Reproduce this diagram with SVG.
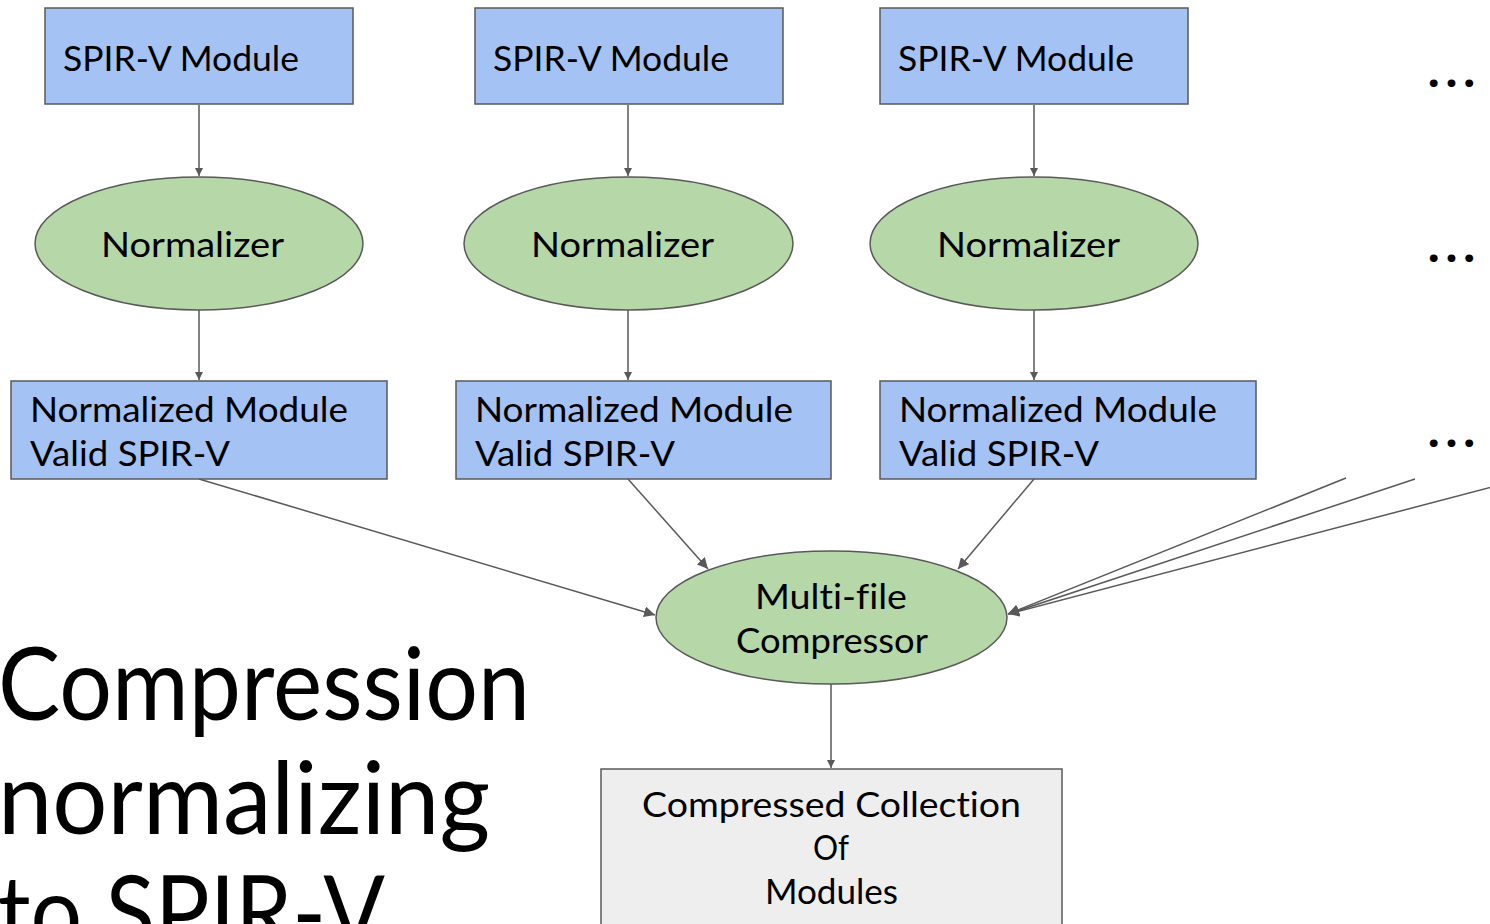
<svg xmlns="http://www.w3.org/2000/svg" width="1490" height="924" viewBox="0 0 1490 924">
<style>
  text { font-family: Lato, "Open Sans", "Liberation Sans", sans-serif; fill: #000; font-variant-ligatures: none; }
  .lbl { font-size: 34px; }
  .blue { fill: #a4c2f4; stroke: #595959; stroke-width: 1.5; }
  .green { fill: #b6d7a8; stroke: #595959; stroke-width: 1.5; }
  .grey { fill: #eeeeee; stroke: #595959; stroke-width: 1.5; }
  .edge { fill: none; stroke: #595959; stroke-width: 1.5; }
  .title { font-size: 100px; }
  .dots { font-size: 48px; font-weight: 900; }
</style>
<defs>
  <marker id="arr" viewBox="0 0 10 10" refX="10" refY="5" markerWidth="8" markerHeight="8" markerUnits="userSpaceOnUse" orient="auto">
    <path d="M0,0 L10,5 L0,10 z" fill="#595959"/>
  </marker>
  <marker id="arrL" viewBox="0 0 10 10" refX="10" refY="5" markerWidth="11" markerHeight="11" markerUnits="userSpaceOnUse" orient="auto">
    <path d="M0,0 L10,5 L0,10 z" fill="#595959"/>
  </marker>
</defs>

<g id="title">
  <text class="title" x="-2" y="720" textLength="532" lengthAdjust="spacingAndGlyphs">Compression</text>
  <text class="title" x="-2" y="834" textLength="492" lengthAdjust="spacingAndGlyphs">normalizing</text>
  <text class="title" x="-2" y="948" textLength="387" lengthAdjust="spacingAndGlyphs">to SPIR-V</text>
</g>

<g id="connectors">
  <line class="edge" x1="199" y1="105" x2="199" y2="176" marker-end="url(#arr)"/>
  <line class="edge" x1="628" y1="105" x2="628" y2="176" marker-end="url(#arr)"/>
  <line class="edge" x1="1034" y1="105" x2="1034" y2="176" marker-end="url(#arr)"/>
  <line class="edge" x1="199" y1="310" x2="199" y2="380" marker-end="url(#arr)"/>
  <line class="edge" x1="628" y1="310" x2="628" y2="380" marker-end="url(#arr)"/>
  <line class="edge" x1="1034" y1="310" x2="1034" y2="380" marker-end="url(#arr)"/>
  <line class="edge" x1="199" y1="479" x2="655" y2="615" marker-end="url(#arrL)"/>
  <line class="edge" x1="628" y1="479" x2="708" y2="569" marker-end="url(#arrL)"/>
  <line class="edge" x1="1034" y1="479" x2="958" y2="569" marker-end="url(#arrL)"/>
  <line class="edge" x1="1346" y1="478" x2="1008" y2="614" marker-end="url(#arrL)"/>
  <line class="edge" x1="1415" y1="479" x2="1008" y2="614" marker-end="url(#arrL)"/>
  <line class="edge" x1="1492" y1="487" x2="1008" y2="614" marker-end="url(#arrL)"/>
  <line class="edge" x1="831" y1="684" x2="831" y2="768" marker-end="url(#arr)"/>
</g>

<g id="module1">
  <rect class="blue" x="45" y="8" width="308" height="96"/>
  <text class="lbl" x="63" y="71" textLength="236" lengthAdjust="spacingAndGlyphs">SPIR-V Module</text>
</g>
<g id="module2">
  <rect class="blue" x="475" y="8" width="308" height="96"/>
  <text class="lbl" x="493" y="71" textLength="236" lengthAdjust="spacingAndGlyphs">SPIR-V Module</text>
</g>
<g id="module3">
  <rect class="blue" x="880" y="8" width="308" height="96"/>
  <text class="lbl" x="898" y="71" textLength="236" lengthAdjust="spacingAndGlyphs">SPIR-V Module</text>
</g>

<g id="normalizer1">
  <ellipse class="green" cx="199" cy="243.5" rx="164" ry="66.5"/>
  <text class="lbl" x="101" y="257" textLength="183" lengthAdjust="spacingAndGlyphs">Normalizer</text>
</g>
<g id="normalizer2">
  <ellipse class="green" cx="628.5" cy="243.5" rx="164.5" ry="66.5"/>
  <text class="lbl" x="531" y="257" textLength="183" lengthAdjust="spacingAndGlyphs">Normalizer</text>
</g>
<g id="normalizer3">
  <ellipse class="green" cx="1034" cy="243.5" rx="164" ry="66.5"/>
  <text class="lbl" x="937" y="257" textLength="183" lengthAdjust="spacingAndGlyphs">Normalizer</text>
</g>

<g id="normalized1">
  <rect class="blue" x="11" y="381" width="376" height="98"/>
  <text class="lbl" x="30" y="422" textLength="318" lengthAdjust="spacingAndGlyphs">Normalized Module</text>
  <text class="lbl" x="30" y="466" textLength="200" lengthAdjust="spacingAndGlyphs">Valid SPIR-V</text>
</g>
<g id="normalized2">
  <rect class="blue" x="456" y="381" width="375" height="98"/>
  <text class="lbl" x="475" y="422" textLength="318" lengthAdjust="spacingAndGlyphs">Normalized Module</text>
  <text class="lbl" x="475" y="466" textLength="200" lengthAdjust="spacingAndGlyphs">Valid SPIR-V</text>
</g>
<g id="normalized3">
  <rect class="blue" x="880" y="381" width="376" height="98"/>
  <text class="lbl" x="899" y="422" textLength="318" lengthAdjust="spacingAndGlyphs">Normalized Module</text>
  <text class="lbl" x="899" y="466" textLength="200" lengthAdjust="spacingAndGlyphs">Valid SPIR-V</text>
</g>

<g id="compressor">
  <ellipse class="green" cx="831.5" cy="617.5" rx="175.5" ry="66.5"/>
  <text class="lbl" x="755" y="609" textLength="152" lengthAdjust="spacingAndGlyphs">Multi-file</text>
  <text class="lbl" x="736" y="653" textLength="192" lengthAdjust="spacingAndGlyphs">Compressor</text>
</g>

<g id="collection">
  <rect class="grey" x="601" y="769" width="461" height="170"/>
  <text class="lbl" x="642" y="817" textLength="379" lengthAdjust="spacingAndGlyphs">Compressed Collection</text>
  <text class="lbl" x="813" y="860" textLength="36" lengthAdjust="spacingAndGlyphs">Of</text>
  <text class="lbl" x="765" y="904" textLength="133" lengthAdjust="spacingAndGlyphs">Modules</text>
</g>

<g id="ellipsis">
  <text class="dots" x="1428" y="87" textLength="47" lengthAdjust="spacing">...</text>
  <text class="dots" x="1428" y="262" textLength="47" lengthAdjust="spacing">...</text>
  <text class="dots" x="1428" y="447" textLength="47" lengthAdjust="spacing">...</text>
</g>
</svg>
